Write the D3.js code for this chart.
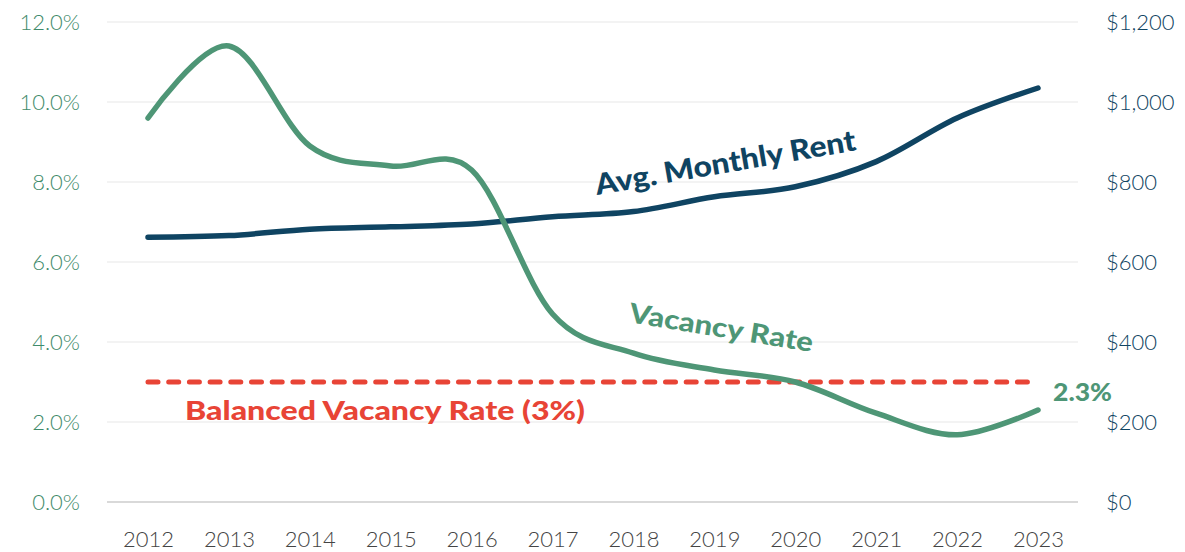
<!DOCTYPE html>
<html>
<head>
<meta charset="utf-8">
<script src="https://cdn.jsdelivr.net/npm/d3@7"></script>
<style>
  html, body { margin: 0; padding: 0; background: #fff; }
  svg { display: block; font-family: Lato, "Open Sans", sans-serif; }
</style>
</head>
<body>
<svg id="chart" width="1185" height="552"></svg>
<script>
// ---- data ----
const years = ["2012","2013","2014","2015","2016","2017","2018","2019","2020","2021","2022","2023"];
const vacancyRate = [9.6, 11.4, 8.9, 8.4, 8.3, 4.7, 3.72, 3.3, 3.0, 2.22, 1.68, 2.3];
const avgRent = [662, 666, 682, 688, 695, 713, 726, 763, 788, 851, 960, 1035];
const balancedRate = 3;
const leftTicks = [0, 2, 4, 6, 8, 10, 12];
const rightTicks = [0, 200, 400, 600, 800, 1000, 1200];

// ---- layout ----
const svg = d3.select("#chart");
const plotLeft = 107, plotRight = 1078, plotTop = 22, plotBottom = 502;
const GREEN = "#4e9676", NAVY = "#0f4462", RED = "#e84436";

const x = d3.scalePoint().domain(years).range([148, 1038]);
const yL = d3.scaleLinear().domain([0, 12]).range([plotBottom, plotTop]);
const yR = d3.scaleLinear().domain([0, 1200]).range([plotBottom, plotTop]);

// gridlines
svg.append("g").selectAll("line").data(leftTicks).join("line")
  .attr("x1", plotLeft).attr("x2", plotRight)
  .attr("y1", d => yL(d)).attr("y2", d => yL(d))
  .attr("stroke", d => d === 0 ? "#d9d9d9" : "#efefef")
  .attr("stroke-width", d => d === 0 ? 2 : 1.5);

// left axis
const gL = svg.append("g").attr("transform", `translate(${plotLeft},0)`)
  .call(d3.axisLeft(yL).tickValues(leftTicks).tickSize(0).tickPadding(27)
    .tickFormat(d => d.toFixed(1) + "%"));
gL.select(".domain").remove();
gL.selectAll("text").attr("fill", "#3f8b6b").attr("font-size", 22)
  .attr("font-family", "Lato, sans-serif").attr("font-weight", 300);

// right axis
const gR = svg.append("g").attr("transform", `translate(${plotRight},0)`)
  .call(d3.axisRight(yR).tickValues(rightTicks).tickSize(0).tickPadding(28)
    .tickFormat(d => "$" + d3.format(",")(d)));
gR.select(".domain").remove();
gR.selectAll("text").attr("fill", "#0f4462").attr("font-size", 22)
  .attr("font-family", "Lato, sans-serif").attr("font-weight", 300);

// bottom axis
const gB = svg.append("g").attr("transform", `translate(0,${plotBottom})`)
  .call(d3.axisBottom(x).tickSize(0).tickPadding(0));
gB.select(".domain").remove();
gB.selectAll("text").attr("y", 45).attr("dy", 0)
  .attr("fill", "#444").attr("font-size", 22)
  .attr("font-family", "Lato, sans-serif").attr("font-weight", 300);

// balanced vacancy rate line
svg.append("line")
  .attr("x1", x(years[0])).attr("x2", x(years[years.length - 1]))
  .attr("y1", yL(balancedRate)).attr("y2", yL(balancedRate))
  .attr("stroke", RED).attr("stroke-width", 5)
  .attr("stroke-dasharray", "10 10.7").attr("stroke-linecap", "round");

// lines
const curve = d3.curveCatmullRom.alpha(0);
svg.append("path")
  .datum(avgRent)
  .attr("fill", "none").attr("stroke", NAVY).attr("stroke-width", 5.5)
  .attr("stroke-linecap", "round").attr("stroke-linejoin", "round")
  .attr("d", d3.line().x((d, i) => x(years[i])).y(d => yR(d)).curve(curve));

svg.append("path")
  .datum(vacancyRate)
  .attr("fill", "none").attr("stroke", GREEN).attr("stroke-width", 5.5)
  .attr("stroke-linecap", "round").attr("stroke-linejoin", "round")
  .attr("d", d3.line().x((d, i) => x(years[i])).y(d => yL(d)).curve(curve));

// labels
svg.append("text")
  .attr("transform", "translate(597,195) rotate(-9.8)")
  .attr("fill", NAVY).attr("font-size", 29).attr("font-weight", 900)
  .attr("textLength", 264).attr("lengthAdjust", "spacingAndGlyphs")
  .text("Avg. Monthly Rent");

svg.append("text")
  .attr("transform", "translate(628,322) rotate(9.3)")
  .attr("fill", GREEN).attr("font-size", 27).attr("font-weight", 900)
  .attr("textLength", 186).attr("lengthAdjust", "spacingAndGlyphs")
  .text("Vacancy Rate");

svg.append("text")
  .attr("x", 185).attr("y", 420)
  .attr("fill", RED).attr("font-size", 27).attr("font-weight", 900)
  .attr("textLength", 400).attr("lengthAdjust", "spacingAndGlyphs")
  .text("Balanced Vacancy Rate (3%)");

const last = vacancyRate.length - 1;
svg.append("text")
  .attr("x", x(years[last]) + 15).attr("y", yL(vacancyRate[last]) - 9)
  .attr("fill", GREEN).attr("font-size", 24).attr("font-weight", 900)
  .attr("textLength", 59).attr("lengthAdjust", "spacingAndGlyphs")
  .text(vacancyRate[last].toFixed(1) + "%");
</script>
</body>
</html>
